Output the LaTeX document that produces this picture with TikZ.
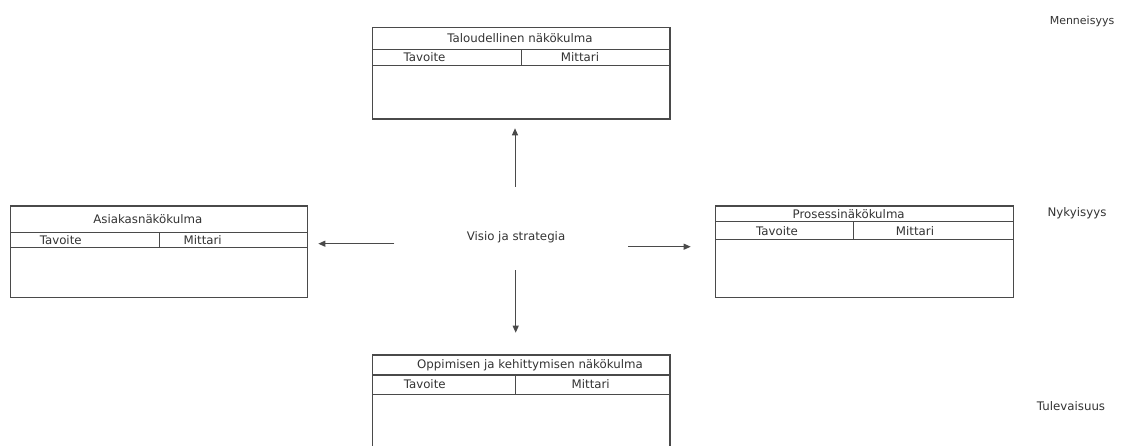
\documentclass[tikz,border=0pt]{standalone}
\usepackage{fontspec}
\setmainfont{DejaVu Sans}
\usetikzlibrary{arrows.meta}
\definecolor{ln}{HTML}{4A4A4A}
\definecolor{tx}{HTML}{333333}
\begin{document}
\begin{tikzpicture}[x=1pt,y=-1pt,
  box/.style={draw=ln,line width=1.1pt,inner sep=0pt,outer sep=0pt,anchor=north west},
  rule/.style={draw=ln,line width=1.1pt},
  lbl/.style={inner sep=0pt,text=tx,font=\fontsize{11.8}{14}\selectfont},
  arr/.style={draw=ln,line width=1pt,-{Triangle[length=7pt,width=6pt]}}]
\useasboundingbox (0,0) rectangle (1123,445);
\clip (0,0) rectangle (1123,445);

% top box
\node[box,minimum width=297.3pt,minimum height=91.7pt] (tbox) at (372.7,27.3) {};
\draw[rule] (372.7,49.3) -- (670,49.3);
\draw[rule] (372.7,65.3) -- (670,65.3);
\draw[rule] (521.3,49.3) -- (521.3,65.3);
\node[lbl] (ttitle) at (520,38.5) {Taloudellinen näkökulma};
\node[lbl] (ttav) at (424.5,57) {Tavoite};
\node[lbl] (tmit) at (580,57) {Mittari};

% left box
\node[box,minimum width=296.6pt,minimum height=91.7pt] (lbox) at (10.7,206) {};
\draw[rule] (10.7,232.3) -- (307.3,232.3);
\draw[rule] (10.7,247.7) -- (307.3,247.7);
\draw[rule] (159.3,232.3) -- (159.3,247.7);
\node[lbl] (ltitle) at (147.8,219) {Asiakasnäkökulma};
\node[lbl] (ltav) at (60.7,240) {Tavoite};
\node[lbl] (lmit) at (202.7,240) {Mittari};

% right box
\node[box,minimum width=297.6pt,minimum height=91.7pt] (rbox) at (715.7,206) {};
\draw[rule] (715.7,221.7) -- (1013.3,221.7);
\draw[rule] (715.7,239.3) -- (1013.3,239.3);
\draw[rule] (853.3,221.7) -- (853.3,239.3);
\node[lbl] (rtitle) at (848.7,214) {Prosessinäkökulma};
\node[lbl] (rtav) at (777,230.7) {Tavoite};
\node[lbl] (rmit) at (915,230.7) {Mittari};

% bottom box
\node[box,minimum width=297.3pt,minimum height=110pt] (bbox) at (372.7,355) {};
\draw[rule] (372.7,375) -- (670,375);
\draw[rule] (372.7,394.3) -- (670,394.3);
\draw[rule] (515.3,375) -- (515.3,394.3);
\node[lbl] (btitle) at (530,365) {Oppimisen ja kehittymisen näkökulma};
\node[lbl] (btav) at (424.7,384) {Tavoite};
\node[lbl] (bmit) at (590.7,384) {Mittari};

% centre
\node[lbl] (visio) at (516,237) {Visio ja strategia};

% arrows
\coordinate (aup0) at (515,186.7);  \coordinate (aup1) at (515,128.3);
\coordinate (alf0) at (394.3,243.7); \coordinate (alf1) at (318.3,243.7);
\coordinate (art0) at (628.3,246.7); \coordinate (art1) at (690.7,246.7);
\coordinate (adn0) at (515.7,270);  \coordinate (adn1) at (515.7,332.7);
\draw[arr] (aup0) -- (aup1);
\draw[arr] (alf0) -- (alf1);
\draw[arr] (art0) -- (art1);
\draw[arr] (adn0) -- (adn1);

% time labels
\node[lbl,font=\fontsize{11}{13}\selectfont] (menn) at (1082,21) {Menneisyys};
\node[lbl] (nyky) at (1077,213) {Nykyisyys};
\node[lbl] (tule) at (1071,406) {Tulevaisuus};
\end{tikzpicture}
\end{document}
